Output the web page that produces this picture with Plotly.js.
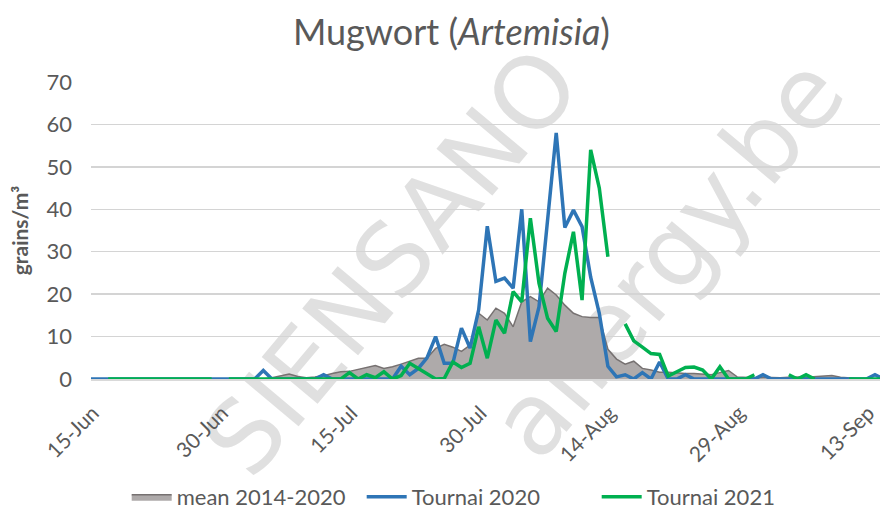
<!DOCTYPE html>
<html>
<head>
<meta charset="utf-8">
<script src="https://cdn.plot.ly/plotly-3.0.1.min.js"></script>
<style>
  html, body { margin:0; padding:0; background:#ffffff; }
  #wrap { position:relative; width:880px; height:513px; overflow:hidden; background:#ffffff; }
  .wm { position:absolute; transform:translate(-50%,-50%) rotate(-50deg); font-family:'DejaVu Sans', sans-serif; font-size:100px; color:#e0e0e0; white-space:nowrap; line-height:1; }
  #chart { position:absolute; left:0; top:0; width:880px; height:513px; }
</style>
</head>
<body>
<div id="wrap">
  <div class="wm" style="left:392px; top:262px;">SIENSANO</div>
  <div class="wm" style="left:668px; top:258px;">allergy.be</div>
  <div id="chart"></div>
</div>
<script>
// Day 0 = 15-Jun; one value per day up to 15-Sep
const startDate = '2021-06-15';
const nDays = 93;

const mean20142020 = [
  0,0,0,0,0,0,0,0,0,0,            // 15-24 Jun
  0,0,0,0,0,0,0,0,0,0,            // 25 Jun - 4 Jul
  0,0.3,0.7,1.2,0.6,0.3,0.5,0.8,1.3,1.7,   // 5-14 Jul
  1.8,2.3,2.8,3.2,2.5,2.9,3.5,4.2,4.9,4.9, // 15-24 Jul
  7.2,8.2,7.5,6.5,8,15.5,13.9,16.7,15.5,12.3, // 25 Jul - 3 Aug
  18.2,19.4,18.2,21.4,19.8,17.4,15.5,14.7,14.5,14.5, // 4-13 Aug
  7,4.7,3.5,4.2,2.5,2.1,1.6,1.6,1.4,1.3,   // 14-23 Aug
  1.3,1.1,1,1.5,2,0.5,0.4,0.3,0.4,0.3,     // 24 Aug - 2 Sep
  0.3,0.4,0.5,0.4,0.5,0.6,0.8,0.4,0.2,0.1, // 3-12 Sep
  0.1,0,0                                  // 13-15 Sep
];

const tournai2020 = [
  0,0,0,0,0,0,0,0,0,0,
  0,0,0,0,0,0,0,0,0,0,
  2,0,0,0,0,0,0,1,0,0,
  0,0,0,0,0,0,3,1,2.5,5,
  10,3.7,3.7,12,7.3,16.3,36,23,23.8,21.4,
  40,8.8,17,37.5,58,35.7,39.8,35.9,24,15.5,
  3,0.5,1,0,1.5,0,4,0,0,1,
  0,0,0,0,0,0,0,0,1,0,
  0,0,0,0,0,0,0,0,0,0,
  0,1,0
];

const tournai2021 = [
  null,null,0,0,0,0,0,0,0,0,
  0,0,0,0,0,null,0,0,0,0,
  0,0,0,0,0,0,0,0,0,0,
  1.5,0,1,0.3,1.7,0,0.8,3.7,2.5,1.3,
  0,0.1,4,2.7,3.7,12.3,4.9,13.9,10.8,20.6,
  18.2,37.9,22.6,14.3,11.2,24.9,34.7,18.6,54,45,
  28.8,null,13,9,7.5,6,5.8,0.7,1.7,2.7,
  2.8,2.1,0,2.9,0,0,0,1,null,null,
  null,1,0,1,0,null,null,null,0,0,
  0,0,0
];

const tickLabels = ['15-Jun','30-Jun','15-Jul','30-Jul','14-Aug','29-Aug','13-Sep'];

// build date categories
const dates = [];
const d0 = new Date(startDate + 'T00:00:00Z');
for (let i = 0; i < nDays; i++) {
  const d = new Date(d0.getTime() + i * 86400000);
  dates.push(d.toISOString().slice(0,10));
}
const tickVals = tickLabels.map((_, k) => dates[k * 15]);

const font = 'Lato, "Open Sans", sans-serif';
const grey = '#595959';

const traces = [
  {
    name: 'mean 2014-2020', x: dates, y: mean20142020, type: 'scatter', mode: 'lines',
    fill: 'tozeroy', fillcolor: '#AEAAAA', line: {color: '#767171', width: 1.5}
  },
  {
    name: 'Tournai 2020', x: dates, y: tournai2020, type: 'scatter', mode: 'lines',
    line: {color: '#2E75B6', width: 3.5}, connectgaps: false
  },
  {
    name: 'Tournai 2021', x: dates, y: tournai2021, type: 'scatter', mode: 'lines',
    line: {color: '#00B050', width: 3.5}, connectgaps: false
  }
];

const layout = {
  width: 880, height: 513,
  margin: {l: 91, r: 0, t: 82, b: 134, autoexpand: false},
  paper_bgcolor: 'rgba(0,0,0,0)', plot_bgcolor: 'rgba(0,0,0,0)',
  font: {family: font, color: grey},
  title: {
    text: 'Mugwort (<i>Artemisia</i>)',
    font: {family: font, size: 36, color: grey},
    x: 0.513, xanchor: 'center', y: 0.936, yanchor: 'middle'
  },
  showlegend: true,
  legend: {
    orientation: 'h', x: 0.492, xanchor: 'center',
    y: -0.397, yanchor: 'middle',
    font: {family: font, size: 22, color: grey},
    traceorder: 'normal', itemwidth: 40,
    entrywidth: 180, entrywidthmode: 'pixels'
  },
  xaxis: {
    type: 'date',
    range: [dates[0], '2021-09-14 14:00'],
    tickmode: 'array', tickvals: tickVals, ticktext: tickLabels,
    tickangle: -45, tickfont: {family: font, size: 21, color: grey},
    showgrid: false, showline: true, linecolor: '#d9d9d9', linewidth: 1.5,
    ticks: '', zeroline: false, ticklabelstandoff: 12, ticklabelshift: 2,
    ticklabeloverflow: 'allow', automargin: false
  },
  yaxis: {
    range: [0, 70], dtick: 10, tick0: 0,
    showgrid: true, gridcolor: '#d4d4d4', gridwidth: 1.5,
    zeroline: false, showline: false, ticks: '',
    tickfont: {family: font, size: 22, color: grey},
    ticklabelstandoff: 18, automargin: false,
    title: {text: '<b>grains/m³</b>', font: {family: font, size: 21, color: grey}, standoff: 12}
  }
};

Plotly.newPlot('chart', traces, layout, {displayModeBar: false, staticPlot: true});
</script>
</body>
</html>
